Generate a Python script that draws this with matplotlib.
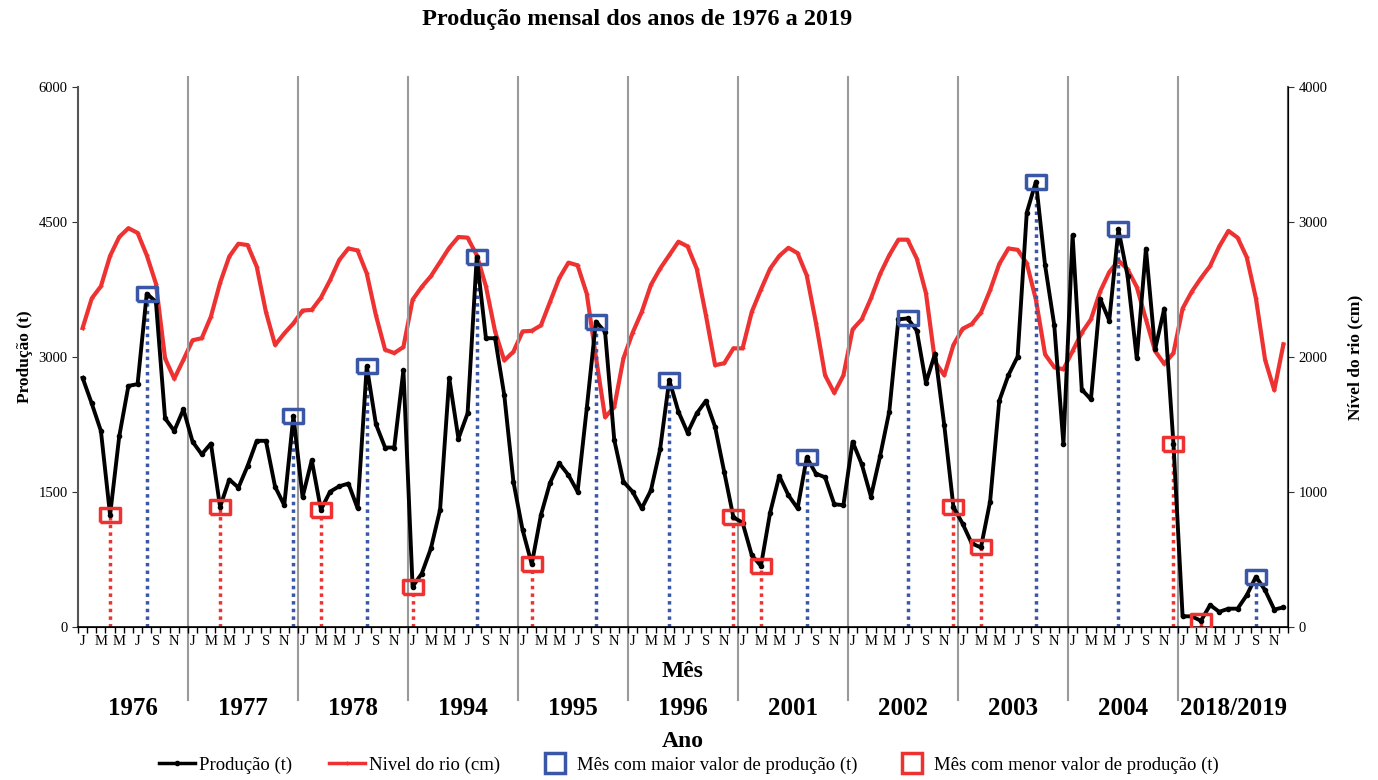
import numpy as np
import matplotlib.pyplot as plt
from matplotlib.lines import Line2D

plt.rcParams['font.family'] = ['Liberation Serif', 'DejaVu Serif']

# grupos de anos e meses
anos = ['1976', '1977', '1978', '1994', '1995', '1996',
        '2001', '2002', '2003', '2004', '2018/2019']
meses = ['J', 'F', 'M', 'A', 'M', 'J', 'J', 'A', 'S', 'O', 'N', 'D']

# producao mensal (t)
producao = [
    2770, 2485, 2180, 1245, 2120, 2680, 2700, 3705, 3615, 2320, 2180, 2420,   # 1976
    2060, 1920, 2040, 1335, 1640, 1550, 1790, 2070, 2070, 1560, 1355, 2345,   # 1977
    1445, 1855, 1305, 1505, 1565, 1595, 1320, 2900, 2255, 1995, 1995, 2855,   # 1978
    450, 595, 875, 1305, 2765, 2095, 2375, 4115, 3210, 3210, 2580, 1615,      # 1994
    1080, 700, 1245, 1605, 1820, 1690, 1505, 2430, 3395, 3280, 2080, 1615,    # 1995
    1505, 1320, 1520, 1975, 2745, 2395, 2160, 2375, 2515, 2225, 1725, 1220,   # 1996
    1160, 800, 680, 1270, 1680, 1465, 1320, 1885, 1705, 1665, 1365, 1355,     # 2001
    2060, 1810, 1450, 1900, 2395, 3420, 3430, 3295, 2715, 3040, 2245, 1335,   # 2002
    1150, 930, 885, 1395, 2515, 2800, 3005, 4605, 4950, 4020, 3355, 2035,     # 2003
    4355, 2640, 2530, 3650, 3405, 4420, 3900, 2985, 4205, 3085, 3540, 2040,   # 2004
    120, 120, 70, 245, 170, 205, 205, 355, 560, 410, 195, 220,                # 2018/2019
]

# nivel do rio (cm)
nivel_rio = [
    2215, 2435, 2525, 2750, 2890, 2955, 2920, 2755, 2545, 1990, 1840, 1980,   # 1976
    2125, 2140, 2300, 2550, 2745, 2840, 2830, 2670, 2335, 2090, 2175, 2250,   # 1977
    2345, 2350, 2440, 2570, 2720, 2805, 2790, 2620, 2310, 2055, 2030, 2075,   # 1978
    2425, 2520, 2600, 2705, 2810, 2890, 2885, 2755, 2525, 2190, 1975, 2040,   # 1994
    2190, 2195, 2235, 2410, 2585, 2700, 2680, 2470, 2000, 1555, 1630, 1990,   # 1995
    2180, 2335, 2535, 2655, 2755, 2855, 2820, 2655, 2310, 1940, 1955, 2065,   # 1996
    2065, 2335, 2500, 2655, 2750, 2810, 2770, 2605, 2255, 1865, 1735, 1865,   # 2001
    2205, 2280, 2435, 2615, 2755, 2870, 2870, 2730, 2475, 1965, 1865, 2090,   # 2002
    2210, 2245, 2330, 2495, 2690, 2805, 2795, 2695, 2425, 2020, 1925, 1910,   # 2003
    2045, 2180, 2280, 2485, 2630, 2715, 2650, 2520, 2280, 2045, 1950, 2030,   # 2004
    2360, 2485, 2585, 2675, 2820, 2935, 2885, 2740, 2435, 1980, 1755, 2095,   # 2018/2019
]

prod = np.array(producao)
rio = np.array(nivel_rio)
x = np.arange(len(prod))

# mes de maior / menor producao em cada grupo
idx_max = [i * 12 + np.argmax(prod[i * 12:(i + 1) * 12]) for i in range(len(anos))]
idx_min = [i * 12 + np.argmin(prod[i * 12:(i + 1) * 12]) for i in range(len(anos))]

azul = '#3a56a6'
vermelho = '#ee3232'

# quadrado um pouco mais largo que alto
quad = [(-1.3, -1), (1.3, -1), (1.3, 1), (-1.3, 1), (-1.3, -1)]

fig = plt.figure(figsize=(13.78, 7.8), dpi=100)
ax = fig.add_axes([0.0566, 0.196, 0.8781, 0.6923])
ax2 = ax.twinx()

# nivel do rio (eixo direito)
ax2.plot(x, rio, color=vermelho, lw=3, marker='+', ms=3, mew=1, zorder=2)
ax2.set_ylim(0, 4000)
ax2.set_yticks([0, 1000, 2000, 3000, 4000])

# producao por cima
ax.set_zorder(ax2.get_zorder() + 1)
ax.patch.set_visible(False)
ax.vlines(idx_max, 0, prod[idx_max], colors=azul, linestyles=(0, (1, 1.2)), lw=2.5, zorder=2)
ax.vlines(idx_min, 0, prod[idx_min], colors=vermelho, linestyles=(0, (1, 1.2)), lw=2.5, zorder=2)
ax.plot(x, prod, color='black', lw=2.8, marker='o', ms=3, zorder=3)
ax.plot(idx_max, prod[idx_max], ls='none', marker=quad, ms=14, mfc='none', mec=azul, mew=2.5, zorder=4)
ax.plot(idx_min, prod[idx_min], ls='none', marker=quad, ms=14, mfc='none', mec=vermelho, mew=2.5, zorder=4)

ax.set_ylim(0, 6000)
ax.set_yticks([0, 1500, 3000, 4500, 6000])
ax.set_xlim(-0.5, len(prod) - 0.5)

# rotulos dos meses
ax.set_xticks([i for i in x if i % 2 == 0])
ax.set_xticklabels([meses[i % 12] for i in x if i % 2 == 0], fontsize=10.5)
ax.set_xticks(np.arange(-0.5, len(prod)), minor=True)
ax.tick_params(axis='x', which='major', length=0, pad=6)
ax.tick_params(axis='x', which='minor', length=4, width=1, direction='out')
ax.tick_params(axis='y', labelsize=10.5, length=4, colors='#333333', labelcolor='black')
ax2.tick_params(axis='y', labelsize=10.5, length=4, colors='#333333', labelcolor='black')

for a in (ax, ax2):
    a.spines['top'].set_visible(False)
ax2.spines['left'].set_visible(False)
ax.spines['left'].set_color('#555555')
ax2.spines['right'].set_color('#555555')
ax.spines['left'].set_linewidth(1.5)
ax2.spines['right'].set_linewidth(1.5)
ax.spines['bottom'].set_linewidth(1.2)

# separadores dos anos e rotulos
trans = ax.get_xaxis_transform()
for k in range(1, len(anos)):
    ax.plot([k * 12 - 0.5] * 2, [-0.135, 1.018], color='#9a9a9a', lw=1.5,
            transform=trans, clip_on=False, zorder=1)
for k, ano in enumerate(anos):
    ax.text(k * 12 + 5.5, -0.15, ano, transform=trans, ha='center', va='center',
            fontsize=18, fontweight='bold')

ax.text(0.5, -0.083, 'Mês', transform=ax.transAxes, ha='center', va='center',
        fontsize=17, fontweight='bold')
ax.text(0.5, -0.212, 'Ano', transform=ax.transAxes, ha='center', va='center',
        fontsize=17, fontweight='bold')

ax.set_ylabel('Produção (t)', fontsize=12.5, fontweight='bold', labelpad=4)
ax2.set_ylabel('Nível do rio (cm)', fontsize=12.5, fontweight='bold', labelpad=14)

fig.suptitle('Produção mensal dos anos de 1976 a 2019', x=0.462, y=0.988,
             fontsize=17.5, fontweight='bold')

handles = [
    Line2D([], [], color='black', lw=2.5, marker='o', ms=3),
    Line2D([], [], color=vermelho, lw=2.5, marker='+', ms=3),
    Line2D([], [], ls='none', marker='s', ms=14, mfc='none', mec=azul, mew=2.5),
    Line2D([], [], ls='none', marker='s', ms=14, mfc='none', mec=vermelho, mew=2.5),
]
labels = ['Produção (t)', 'Nivel do rio (cm)', 'Mês com maior valor de produção (t)',
          'Mês com menor valor de produção (t)']
fig.legend(handles, labels, loc='lower center', bbox_to_anchor=(0.5, -0.014), ncol=4,
           frameon=False, fontsize=13.5, handlelength=1.9, handletextpad=0.2,
           columnspacing=2.0)

fig.savefig('out.png', dpi=100)
